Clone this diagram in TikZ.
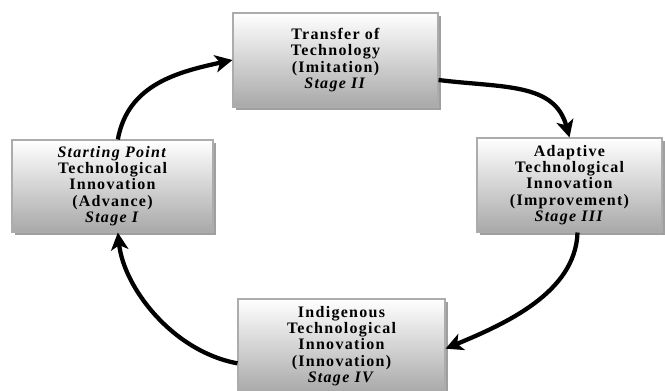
\documentclass[tikz,border=0pt]{standalone}
\usepackage{fontspec}
\setmainfont{Liberation Serif}
\newfontfamily\stagefont[LetterSpace=8]{Liberation Serif}
\usepackage{tikz}
\usetikzlibrary{arrows.meta,shadows}

\tikzset{
  stagebox/.style={draw=gray!65, line width=0.8pt, top color=white, bottom color=gray!68,
    drop shadow={shadow xshift=2.5pt, shadow yshift=-2.5pt, fill=gray!75, opacity=1},
    align=center, inner sep=0.75pt, font=\stagefont\fontsize{12}{12.2}\selectfont\bfseries},
  cyclearrow/.style={line width=3.2pt, -{Stealth[length=13pt,width=13pt,inset=3.5pt]}}
}

\begin{document}
\begin{tikzpicture}[x=0.75pt,y=0.75pt,yscale=-1,xscale=1]
\useasboundingbox (0,0) rectangle (665,391);

% Stage I
\node (s1) at (112.5,186) [stagebox, minimum width=150.75pt, minimum height=69pt]
  {\textit{Starting Point}\\Technological\\Innovation\\(Advance)\\\textit{Stage I}};
% Stage II
\node (s2) at (335.5,60) [stagebox, minimum width=153.75pt, minimum height=70.5pt]
  {Transfer of\\Technology\\(Imitation)\\\textit{Stage II}};
% Stage III
\node (s3) at (569.5,185) [stagebox, minimum width=138.75pt, minimum height=70.5pt]
  {Adaptive\\Technological\\Innovation\\(Improvement)\\\textit{Stage III}};
% Stage IV
\node (s4) at (341.5,346) [stagebox, minimum width=155.25pt, minimum height=70.5pt]
  {Indigenous\\Technological\\Innovation\\(Innovation)\\\textit{Stage IV}};

% Curved Arrows
\draw [cyclearrow] ([xshift=4pt]s1.north) .. controls +(10,-55) and +(-55,12) .. (s2.west);
\draw [cyclearrow] ([yshift=15pt]s2.east) .. controls +(65,8) and +(-15,-55) .. (s3.north);
\draw [cyclearrow] ([xshift=6pt]s3.south) .. controls +(-2,60) and +(60,-25) .. ([yshift=2pt]s4.east);
\draw [cyclearrow] ([yshift=13pt]s4.west) .. controls +(-65,-12) and +(6,55) .. ([xshift=4pt]s1.south);

\end{tikzpicture}
\end{document}
